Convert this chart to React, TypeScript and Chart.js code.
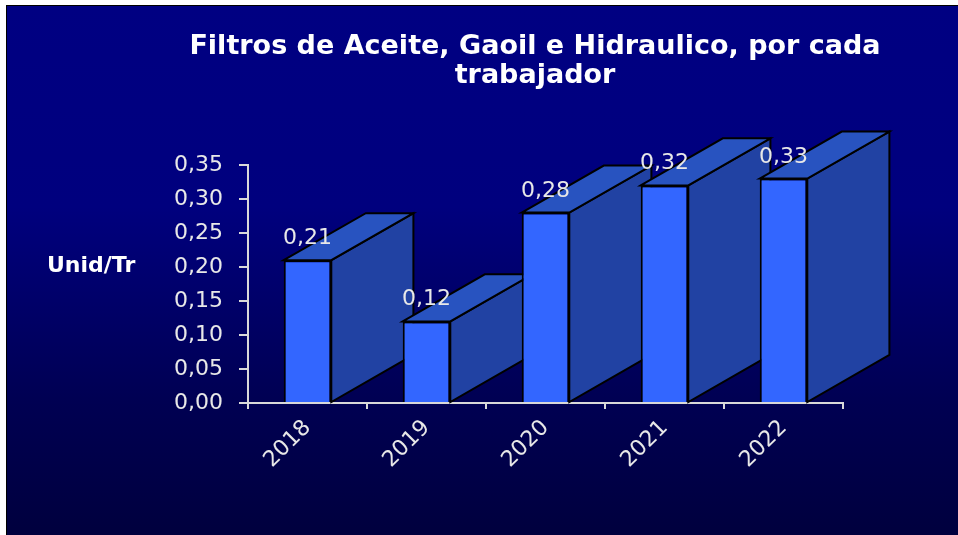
import React, { useEffect, useRef } from 'react';
import { Chart, registerables } from 'chart.js';

Chart.register(...registerables);

// ---- data ----
const categories: string[] = ['2018', '2019', '2020', '2021', '2022'];
const values: number[] = [0.21, 0.12, 0.28, 0.32, 0.33];
const titleLines: string[] = ['Filtros de Aceite, Gaoil e Hidraulico, por cada', 'trabajador'];
const yAxisLabel = 'Unid/Tr';
const yMin = 0;
const yMax = 0.35;
const yStep = 0.05;

// ---- styles ----
const FRONT = '#3366FF';
const TOP = '#2853C0';
const SIDE = '#2142A3';
const AXIS = '#D9D9D9';
const TEXT = '#E8E8E8';
const FONT = '"DejaVu Sans", "Liberation Sans", Arial, sans-serif';

const fmt = (v: number) => Number(v).toFixed(2).replace('.', ',');

const bar3d = {
  id: 'bar3d',
  beforeDatasetsDraw(chart: any) {
    const ctx = chart.ctx as CanvasRenderingContext2D;
    const meta = chart.getDatasetMeta(0);
    const xs = chart.scales.x;
    const band = xs.getPixelForValue(1) - xs.getPixelForValue(0);
    const dx = band * 0.69;
    const dy = dx * 0.573;
    ctx.save();
    ctx.lineWidth = 2;
    ctx.strokeStyle = '#000';
    ctx.lineJoin = 'miter';
    meta.data.forEach((el: any) => {
      const p = el.getProps(['x', 'y', 'base', 'width'], true);
      const l = p.x - p.width / 2;
      const r = p.x + p.width / 2;
      const top = p.y;
      const base = p.base;
      // side face
      ctx.beginPath();
      ctx.moveTo(r, top);
      ctx.lineTo(r + dx, top - dy);
      ctx.lineTo(r + dx, base - dy);
      ctx.lineTo(r, base);
      ctx.closePath();
      ctx.fillStyle = SIDE;
      ctx.fill();
      ctx.stroke();
      // top face
      ctx.beginPath();
      ctx.moveTo(l, top);
      ctx.lineTo(l + dx, top - dy);
      ctx.lineTo(r + dx, top - dy);
      ctx.lineTo(r, top);
      ctx.closePath();
      ctx.fillStyle = TOP;
      ctx.fill();
      ctx.stroke();
    });
    ctx.restore();
  },
  afterDatasetsDraw(chart: any) {
    const ctx = chart.ctx as CanvasRenderingContext2D;
    const meta = chart.getDatasetMeta(0);
    ctx.save();
    ctx.font = `22px ${FONT}`;
    ctx.fillStyle = TEXT;
    ctx.textAlign = 'center';
    ctx.textBaseline = 'alphabetic';
    meta.data.forEach((el: any, i: number) => {
      const p = el.getProps(['x', 'y'], true);
      ctx.fillText(fmt(values[i]), p.x, p.y - 16);
    });
    ctx.restore();
  },
  afterDraw(chart: any) {
    const ctx = chart.ctx as CanvasRenderingContext2D;
    ctx.save();
    ctx.fillStyle = '#FFFFFF';
    ctx.textBaseline = 'alphabetic';
    ctx.textAlign = 'center';
    ctx.font = `bold 27px ${FONT}`;
    ctx.fillText(titleLines[0], 528, 48);
    ctx.fillText(titleLines[1], 528, 77);
    ctx.textAlign = 'left';
    ctx.font = `bold 22px ${FONT}`;
    const area = chart.chartArea;
    ctx.fillText(yAxisLabel, 40, area.top + (area.bottom - area.top) * 0.45);
    ctx.restore();
  },
};

export default function App() {
  const ref = useRef<HTMLCanvasElement>(null);
  useEffect(() => {
    if (!ref.current) return;
    const chart = new Chart(ref.current, {
      type: 'bar',
      data: {
        labels: categories,
        datasets: [
          {
            data: values,
            backgroundColor: FRONT,
            borderColor: '#000000',
            borderWidth: 2,
            barPercentage: 0.4,
            categoryPercentage: 1.0,
          },
        ],
      },
      options: {
        responsive: false,
        animation: false,
        devicePixelRatio: 1,
        layout: { padding: { left: 0, right: 115, top: 159, bottom: 0 } },
        plugins: {
          legend: { display: false },
          tooltip: { enabled: false },
          title: { display: false },
        },
        scales: {
          x: {
            offset: true,
            grid: {
              display: true,
              drawOnChartArea: false,
              drawTicks: true,
              tickLength: 6,
              offset: true,
              color: AXIS,
              lineWidth: 2,
            },
            border: { display: true, color: AXIS, width: 2 },
            ticks: {
              color: TEXT,
              font: { family: FONT, size: 22 },
              minRotation: 45,
              maxRotation: 45,
              padding: 6,
              autoSkip: false,
            },
            afterFit: (s: any) => {
              s.height = 132;
            },
          },
          y: {
            min: yMin,
            max: yMax,
            ticks: {
              stepSize: yStep,
              color: TEXT,
              font: { family: FONT, size: 22 },
              padding: 16,
              callback: (v: any) => fmt(v),
            },
            grid: {
              display: true,
              drawOnChartArea: false,
              drawTicks: true,
              tickLength: 9,
              color: AXIS,
              lineWidth: 2,
            },
            border: { display: true, color: AXIS, width: 2 },
            afterFit: (s: any) => {
              s.width = 241;
            },
          },
        },
      },
      plugins: [bar3d],
    } as any);
    return () => chart.destroy();
  }, []);

  return (
    <div style={{ position: 'fixed', left: 0, top: 0, width: 958, height: 535, background: '#ffffff' }}>
      <div
        style={{
          position: 'absolute',
          left: 6,
          top: 5,
          width: 952,
          height: 530,
          boxSizing: 'border-box',
          borderLeft: '1px solid #000',
          borderTop: '1px solid #000',
          background:
            'linear-gradient(180deg, #000082 0%, #00007E 38%, #000052 75%, #00003E 100%)',
        }}
      >
        <canvas ref={ref} width={951} height={529} style={{ display: 'block' }} />
      </div>
    </div>
  );
}
